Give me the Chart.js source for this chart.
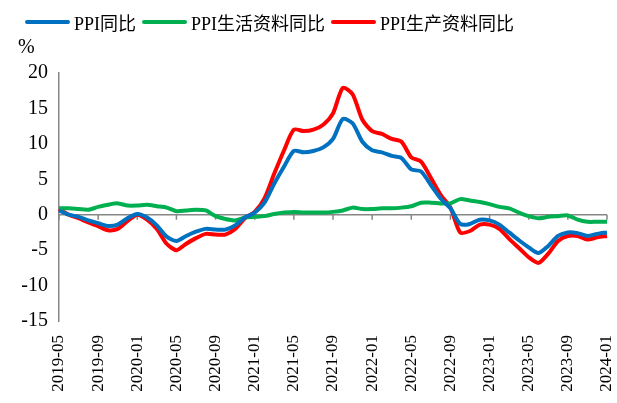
<!DOCTYPE html>
<html>
<head>
<meta charset="utf-8">
<script src="https://cdn.jsdelivr.net/npm/chart.js@4.4.0/dist/chart.umd.min.js"></script>
<style>
  body { margin: 0; background: #fff; }
  #wrap { position: relative; width: 617px; height: 403px; }
  #unit { position: absolute; left: 18px; top: 35px; font: 20px "Liberation Serif", serif; color: #000; }
  #legend { position: absolute; left: 25px; top: 9px; display: flex; align-items: center;
            font: 18px "Liberation Serif", "Noto Sans CJK SC", serif; color: #000; }
  #legend .item { display: flex; align-items: center; margin-right: 6px; }
  #legend .bar { width: 45px; height: 4px; border-radius: 2px; margin-right: 4px; }
</style>
</head>
<body>
<div id="wrap">
  <canvas id="chart" width="617" height="403"></canvas>
  <div id="unit">%</div>
  <div id="legend"></div>
</div>
<script>
// 月份 2019-05 ~ 2024-01
const months = [];
for (let y = 2019; y <= 2024; y++) {
    for (let m = 1; m <= 12; m++) {
        if ((y === 2019 && m < 5) || (y === 2024 && m > 1)) continue;
        months.push(y + '-' + String(m).padStart(2, '0'));
    }
}

const ppi = [
    0.6, 0.0, -0.3, -0.8, -1.2, -1.6, -1.4, -0.5,
    0.1, -0.4, -1.5, -3.1, -3.7, -3.0, -2.4, -2.0, -2.1, -2.1, -1.5, -0.4,
    0.3, 1.7, 4.4, 6.8, 9.0, 8.8, 9.0, 9.5, 10.7, 13.5, 12.9, 10.3,
    9.1, 8.8, 8.3, 8.0, 6.4, 6.1, 4.2, 2.3, 0.9, -1.3, -1.3, -0.7,
    -0.8, -1.4, -2.5, -3.6, -4.6, -5.4, -4.4, -3.0, -2.5, -2.6, -3.0, -2.7,
    -2.5
];
const ppiLiving = [
    0.9, 0.9, 0.8, 0.7, 1.1, 1.4, 1.6, 1.3,
    1.3, 1.4, 1.2, 1.0, 0.5, 0.6, 0.7, 0.6, -0.2, -0.6, -0.8, -0.4,
    -0.3, -0.2, 0.1, 0.3, 0.4, 0.3, 0.3, 0.3, 0.4, 0.6, 1.0, 0.8,
    0.8, 0.9, 0.9, 1.0, 1.2, 1.7, 1.7, 1.6, 1.6, 2.2, 2.0, 1.8,
    1.5, 1.1, 0.9, 0.3, -0.2, -0.5, -0.3, -0.2, -0.1, -0.7, -1.0, -1.0,
    -1.0
];
const ppiProduction = [
    0.8, 0.0, -0.5, -1.1, -1.6, -2.2, -2.0, -0.9,
    0.0, -0.7, -2.0, -4.1, -5.0, -4.1, -3.3, -2.7, -2.8, -2.8, -2.0, -0.5,
    0.4, 2.3, 5.8, 9.1, 12.0, 11.8, 12.0, 12.7, 14.3, 17.9, 17.0, 13.4,
    11.8, 11.4, 10.7, 10.3, 8.1, 7.5, 5.2, 2.8, 1.0, -2.5, -2.3, -1.4,
    -1.4, -2.0, -3.4, -4.7, -6.0, -6.8, -5.5, -3.7, -3.0, -3.0, -3.5, -3.2,
    -3.0
];

const seriesNames = ['PPI同比', 'PPI生活资料同比', 'PPI生产资料同比'];
const seriesColors = ['#0070C0', '#00B050', '#FF0000'];

const serif = '"Liberation Serif", "Times New Roman", serif';
const axisGray = '#868686';

// 零轴线和刻度
const zeroAxis = {
    id: 'zeroAxis',
    beforeDatasetsDraw(chart) {
        const { ctx, chartArea, scales: { x, y } } = chart;
        const y0 = y.getPixelForValue(0);
        ctx.save();
        ctx.strokeStyle = axisGray;
        ctx.lineWidth = 1.5;
        ctx.beginPath();
        ctx.moveTo(chartArea.left, y0);
        ctx.lineTo(chartArea.right, y0);
        for (let i = 0; i < months.length; i += 4) {
            const px = x.getPixelForValue(i);
            ctx.moveTo(px, y0);
            ctx.lineTo(px, y0 + 5);
        }
        ctx.stroke();
        ctx.restore();
    }
};

const chart = new Chart(document.getElementById('chart'), {
    type: 'line',
    data: {
        labels: months,
        datasets: [ppi, ppiLiving, ppiProduction].map((d, i) => ({
            label: seriesNames[i],
            data: d,
            borderColor: seriesColors[i],
            backgroundColor: seriesColors[i],
            borderWidth: 4,
            pointRadius: 0,
            tension: 0.25,
            fill: false
        }))
    },
    options: {
        responsive: false,
        animation: false,
        layout: { padding: { left: 0, right: 0, top: 73, bottom: 0 } },
        plugins: {
            legend: { display: false },
            tooltip: { enabled: false }
        },
        scales: {
            x: {
                grid: { display: false, drawTicks: false },
                border: { display: false },
                afterFit: s => { s.height = 82; s.paddingRight = 10; s.paddingLeft = 0; },
                ticks: {
                    autoSkip: false,
                    maxRotation: 90,
                    minRotation: 90,
                    padding: 14,
                    color: '#000',
                    font: { family: serif, size: 17 },
                    callback: function (v, i) { return i % 4 === 0 ? months[i] : ''; }
                }
            },
            y: {
                min: -15,
                max: 20,
                afterFit: s => { s.width = 59; },
                grid: { display: false, drawTicks: true, tickLength: 5, tickColor: axisGray },
                border: { display: true, color: axisGray, width: 1.5 },
                ticks: {
                    stepSize: 5,
                    padding: 6,
                    color: '#000',
                    font: { family: serif, size: 20 }
                }
            }
        }
    },
    plugins: [zeroAxis]
});

// HTML 图例
const legendEl = document.getElementById('legend');
chart.data.datasets.forEach(ds => {
    const item = document.createElement('div');
    item.className = 'item';
    const bar = document.createElement('span');
    bar.className = 'bar';
    bar.style.background = ds.borderColor;
    const txt = document.createElement('span');
    txt.textContent = ds.label;
    item.appendChild(bar);
    item.appendChild(txt);
    legendEl.appendChild(item);
});
</script>
</body>
</html>
